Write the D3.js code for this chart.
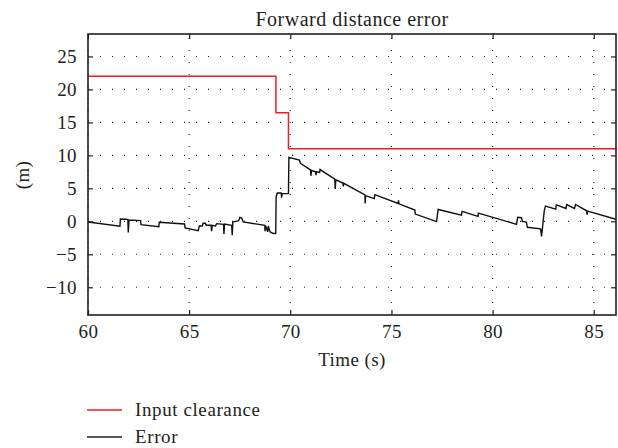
<!DOCTYPE html>
<html>
<head>
<meta charset="utf-8">
<script src="https://cdn.jsdelivr.net/npm/d3@7/dist/d3.min.js"></script>
<style>
  html, body { margin: 0; padding: 0; background: #fff; }
  svg { display: block; }
  text { font-family: "Liberation Serif", "DejaVu Serif", serif; fill: #231f20; }
</style>
</head>
<body>
<svg id="chart" width="618" height="448"></svg>
<script>
// ---- data ----
const title = "Forward distance error";
const xLabel = "Time (s)";
const yLabel = "(m)";
const xTicks = [60, 65, 70, 75, 80, 85];
const yTicks = [-10, -5, 0, 5, 10, 15, 20, 25];
const seriesNames = ["Input clearance", "Error"];

const clearanceTime  = [60, 69.29, 69.29, 69.91, 69.91, 86.1];
const clearanceValue = [22, 22, 16.45, 16.45, 11, 11];

const errorTime = [
  60, 61.58, 61.6, 61.97, 61.99, 62.03, 62.6, 62.62, 63.5, 63.52,
  64.77, 64.8, 65.45, 65.5, 65.65, 65.69, 65.8, 65.85, 66.08, 66.11,
  66.14, 66.3, 66.36, 66.7, 66.72, 66.75, 67.1, 67.13, 67.16, 67.3,
  67.45, 67.51, 67.6, 67.67, 68.74, 68.75, 68.78, 68.88, 68.91, 69.0,
  69.02, 69.13, 69.28, 69.3, 69.36, 69.55, 69.57, 69.6, 69.91, 69.93,
  70.45, 70.5, 71.0, 71.02, 71.05, 71.25, 71.27, 71.3, 71.45, 71.47,
  72.2, 72.22, 72.25, 72.6, 72.62, 72.65, 73.69, 73.7, 73.72, 74.15,
  74.18, 75.33, 75.35, 75.37, 76.16, 76.18, 77.23, 77.28, 77.31, 78.46,
  78.49, 79.28, 79.3, 81.18, 81.24, 81.43, 81.47, 81.67, 81.72, 82.37,
  82.42, 82.55, 82.61, 83.12, 83.15, 83.63, 83.66, 84.05, 84.1, 84.65,
  84.67, 84.7, 86.1
];
const errorValue = [
  -0.1, -0.75, 0.35, 0.3, -1.7, 0.2, 0.1, -0.5, -0.8, -0.15,
  -0.4, -1.0, -1.4, -0.7, -0.7, -0.3, -0.3, -0.6, -0.6, -1.5,
  -0.6, -0.7, -0.35, -0.45, -1.9, -0.4, -0.6, -2.1, -0.1, 0.0,
  0.1, 0.6, 0.5, -0.1, -0.6, -1.5, -0.65, -1.6, -0.7, -1.6,
  -1.65, -1.8, -1.85, 3.7, 4.3, 4.3, 3.6, 4.2, 4.2, 9.7,
  9.3, 8.8, 7.8, 6.9, 7.7, 7.5, 7.0, 7.5, 7.4, 7.85,
  6.4, 4.9, 6.3, 5.8, 5.3, 5.75, 4.0, 2.7, 3.9, 3.45,
  4.05, 2.7, 3.2, 2.65, 1.7, 1.1, -0.05, 1.2, 1.8, 0.95,
  1.5, 0.75, 1.25, -0.45, 0.6, 0.55, 0.0, -0.1, -0.9, -1.15,
  -2.3, 1.5, 2.3, 1.85, 2.5, 1.95, 2.55, 1.95, 2.55, 1.6,
  1.0, 1.55, 0.3
];

// ---- layout ----
const svg = d3.select("#chart");
const L = 88, R = 616, T = 34, B = 315;
const x = d3.scaleLinear().domain([60, 86.1]).range([L, R]);
const y = d3.scaleLinear().domain([-14.2, 28.4]).range([B, T]);

const red = "#ec1c24";

// grid
const grid = svg.append("g");
grid.selectAll(".gx").data(xTicks).join("line")
  .attr("x1", d => x(d)).attr("x2", d => x(d))
  .attr("y1", B).attr("y2", T)
  .attr("stroke", "#231f20").attr("stroke-width", 1.1)
  .attr("stroke-dasharray", "1,11");
grid.selectAll(".gy").data(yTicks).join("line")
  .attr("x1", L).attr("x2", R)
  .attr("y1", d => y(d)).attr("y2", d => y(d))
  .attr("stroke", "#231f20").attr("stroke-width", 1.1)
  .attr("stroke-dasharray", "1,11");

// lines
const clearance = clearanceTime.map((t, i) => [t, clearanceValue[i]]);
const error = errorTime.map((t, i) => [t, errorValue[i]]);
const line = d3.line().x(d => x(d[0])).y(d => y(d[1]));

svg.append("clipPath").attr("id", "clip")
  .append("rect").attr("x", L).attr("y", T).attr("width", R - L).attr("height", B - T);

svg.append("path").datum(clearance)
  .attr("d", line).attr("fill", "none")
  .attr("stroke", red).attr("stroke-width", 1.5)
  .attr("clip-path", "url(#clip)");
svg.append("path").datum(error)
  .attr("d", line).attr("fill", "none")
  .attr("stroke", "#111").attr("stroke-width", 1.4)
  .attr("stroke-linejoin", "miter")
  .attr("clip-path", "url(#clip)");

// axes (ticks inward)
const tl = 5;
const fmt = d => d < 0 ? "\u2212" + Math.abs(d) : d;
const xb = svg.append("g").attr("transform", `translate(0,${B})`)
  .call(d3.axisBottom(x).tickValues(xTicks).tickSize(-tl).tickPadding(10).tickFormat(fmt));
const xt = svg.append("g").attr("transform", `translate(0,${T})`)
  .call(d3.axisTop(x).tickValues(xTicks).tickSize(-tl).tickFormat(""));
const yl = svg.append("g").attr("transform", `translate(${L},0)`)
  .call(d3.axisLeft(y).tickValues(yTicks).tickSize(-tl).tickPadding(11).tickFormat(fmt));
const yr = svg.append("g").attr("transform", `translate(${R},0)`)
  .call(d3.axisRight(y).tickValues(yTicks).tickSize(-tl).tickFormat(""));

[xb, xt, yl, yr].forEach(g => {
  g.select(".domain").remove();
  g.selectAll(".tick line").attr("stroke", "#231f20").attr("stroke-width", 1.2);
  g.selectAll("text").attr("font-size", 19).attr("font-family", "Liberation Serif")
    .attr("fill", "#231f20").attr("letter-spacing", 0.4);
});

// frame
svg.append("rect").attr("x", L).attr("y", T).attr("width", R - L).attr("height", B - T)
  .attr("fill", "none").attr("stroke", "#231f20").attr("stroke-width", 1.6);

// title & labels
svg.append("text").attr("x", 352).attr("y", 26)
  .attr("text-anchor", "middle").attr("font-size", 20).attr("letter-spacing", 0.5).text(title);
svg.append("text").attr("x", 352).attr("y", 366)
  .attr("text-anchor", "middle").attr("font-size", 19).attr("letter-spacing", 0.4).text(xLabel);
svg.append("text").attr("transform", `translate(29,175) rotate(-90)`)
  .attr("text-anchor", "middle").attr("font-size", 19).attr("letter-spacing", 0.4).text(yLabel);

// legend
const leg = svg.append("g");
const legColors = [red, "#231f20"];
seriesNames.forEach((name, i) => {
  const yy = 410 + i * 27;
  leg.append("line").attr("x1", 87).attr("x2", 122).attr("y1", yy).attr("y2", yy)
    .attr("stroke", legColors[i]).attr("stroke-width", 1.3);
  leg.append("text").attr("x", 135).attr("y", yy + 6).attr("font-size", 19)
    .attr("letter-spacing", 0.6).text(name);
});
</script>
</body>
</html>
